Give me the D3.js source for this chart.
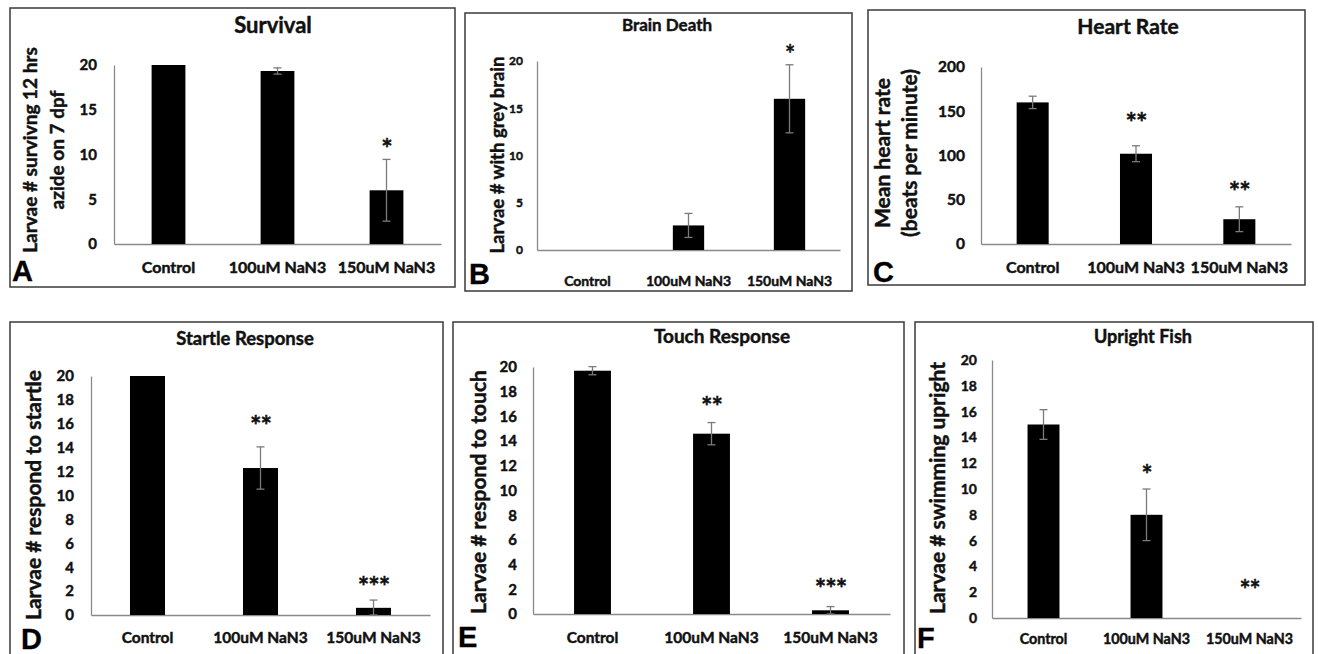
<!DOCTYPE html>
<html><head><meta charset="utf-8">
<script src="https://cdn.jsdelivr.net/npm/d3@7"></script>
<style>
html,body{margin:0;padding:0;background:#fff;}
svg text{font-family:Lato,"Open Sans",sans-serif;font-weight:bold;fill:#111;stroke:#111;stroke-width:0.45px;}
svg text.letter{font-family:"Liberation Sans",Arial,sans-serif;fill:#000;stroke:#000;stroke-width:0.3px;}
</style></head>
<body>
<svg id="c" width="1318" height="654"></svg>
<script>
// ---------- data ----------
const categories = ["Control", "100uM NaN3", "150uM NaN3"];

const survivalMean = [20, 19.33, 6];
const survivalErr = [0, 0.35, 3.45];
const survivalStars = ["", "", "*"];
const survivalStarAt = [0, 0, 11.3];
const survivalTicks = [0, 5, 10, 15, 20];

const brainMean = [0, 2.6, 16];
const brainErr = [0, 1.27, 3.6];
const brainStars = ["", "", "*"];
const brainStarAt = [0, 0, 21.2];
const brainTicks = [0, 5, 10, 15, 20];

const heartMean = [160, 102, 28];
const heartErr = [7, 9, 14];
const heartStars = ["", "**", "**"];
const heartStarAt = [0, 143.5, 65.5];
const heartTicks = [0, 50, 100, 150, 200];

const startleMean = [20, 12.3, 0.6];
const startleErr = [0, 1.77, 0.65];
const startleStars = ["", "**", "***"];
const startleStarAt = [0, 16.3, 2.8];
const startleTicks = [0, 2, 4, 6, 8, 10, 12, 14, 16, 18, 20];

const touchMean = [19.7, 14.6, 0.3];
const touchErr = [0.33, 0.9, 0.3];
const touchStars = ["", "**", "***"];
const touchStarAt = [0, 17.2, 2.5];
const touchTicks = [0, 2, 4, 6, 8, 10, 12, 14, 16, 18, 20];

const uprightMean = [15, 8, 0];
const uprightErr = [1.15, 2, 0];
const uprightStars = ["", "*", "**"];
const uprightStarAt = [0, 11.5, 2.6];
const uprightTicks = [0, 2, 4, 6, 8, 10, 12, 14, 16, 18, 20];

// ---------- layout ----------
const panels = [
  {letter:"A", title:"Survival", ylab:["Larvae # survivng 12 hrs","azide on 7 dpf"],
   mean:survivalMean, err:survivalErr, stars:survivalStars, starAt:survivalStarAt, ticks:survivalTicks, max:20,
   box:[10,8,455,287], x0:114, x1:441, yTop:65, yBot:244,
   tickFs:15, tickGap:17, titleFs:22, titleX:273, titleY:33, catFs:16, catY:273,
   ylabFs:19, ylabX:[30,57], ylabY:150, letterX:12, letterY:281, starFs:27},
  {letter:"B", title:"Brain Death", ylab:["Larvae # with grey brain"],
   mean:brainMean, err:brainErr, stars:brainStars, starAt:brainStarAt, ticks:brainTicks, max:20,
   box:[465,13,852,291], x0:537, x1:840, yTop:61, yBot:250,
   tickFs:12, tickGap:14, titleFs:17, titleX:667, titleY:31, catFs:14, catY:286,
   ylabFs:18.5, ylabX:[498], ylabY:155, letterX:469, letterY:284, starFs:24},
  {letter:"C", title:"Heart Rate", ylab:["Mean heart rate","(beats per minute)"],
   mean:heartMean, err:heartErr, stars:heartStars, starAt:heartStarAt, ticks:heartTicks, max:200,
   box:[868,10,1305,285], x0:981, x1:1291, yTop:67, yBot:244,
   tickFs:15.5, tickGap:16, titleFs:21, titleX:1128, titleY:34, catFs:16, catY:273,
   ylabFs:21, ylabX:[883,910], ylabY:153, letterX:873, letterY:282, starFs:27},
  {letter:"D", title:"Startle Response", ylab:["Larvae # respond to startle"],
   mean:startleMean, err:startleErr, stars:startleStars, starAt:startleStarAt, ticks:startleTicks, max:20,
   box:[10,322,443,680], x0:91, x1:430, yTop:376, yBot:615,
   tickFs:15, tickGap:17, titleFs:18.5, titleX:245, titleY:345, catFs:15.5, catY:643,
   ylabFs:21, ylabX:[34], ylabY:495, letterX:21, letterY:649, starFs:27},
  {letter:"E", title:"Touch Response", ylab:["Larvae # respond to touch"],
   mean:touchMean, err:touchErr, stars:touchStars, starAt:touchStarAt, ticks:touchTicks, max:20,
   box:[453,322,904,680], x0:533, x1:890, yTop:367, yBot:614,
   tickFs:15, tickGap:16, titleFs:19, titleX:722, titleY:343, catFs:15.5, catY:643,
   ylabFs:21, ylabX:[479], ylabY:492, letterX:458, letterY:647, starFs:27},
  {letter:"F", title:"Upright Fish", ylab:["Larvae # swimming upright"],
   mean:uprightMean, err:uprightErr, stars:uprightStars, starAt:uprightStarAt, ticks:uprightTicks, max:20,
   box:[915,322,1313,680], x0:992, x1:1301, yTop:360, yBot:618,
   tickFs:14, tickGap:15, titleFs:18, titleX:1143, titleY:343, catFs:14.3, catY:644,
   ylabFs:21, ylabX:[938], ylabY:488, letterX:917, letterY:648, starFs:26}
];

const svg = d3.select("#c");
const axisColor = "#8a8a8a";
const errColor = "#7a7a7a";

panels.forEach(p => {
  const g = svg.append("g");
  const [bx0, by0, bx1, by1] = p.box;
  g.append("rect").attr("x", bx0).attr("y", by0).attr("width", bx1 - bx0).attr("height", by1 - by0)
    .attr("fill", "none").attr("stroke", "#3a3a3a").attr("stroke-width", 1.5);

  const x = d3.scaleBand().domain(categories).range([p.x0, p.x1]).paddingInner(0.69).paddingOuter(0.345);
  const y = d3.scaleLinear().domain([0, p.max]).range([p.yBot, p.yTop]);

  // y axis
  const ya = g.append("g").attr("transform", `translate(${p.x0},0)`)
    .call(d3.axisLeft(y).tickValues(p.ticks).tickSize(0).tickPadding(p.tickGap));
  ya.select(".domain").attr("stroke", axisColor).attr("stroke-width", 1.3);
  ya.selectAll("text").style("font-size", p.tickFs + "px").attr("fill", "#111")
    .style("font-family", "Lato").style("font-weight", "bold");

  // x axis
  const xa = g.append("g").attr("transform", `translate(0,${p.yBot})`)
    .call(d3.axisBottom(x).tickSize(0).tickPadding(0));
  xa.select(".domain").attr("stroke", axisColor).attr("stroke-width", 1.3);
  xa.selectAll("text").style("font-size", p.catFs + "px").attr("fill", "#111")
    .attr("dy", null).attr("y", p.catY - p.yBot)
    .style("font-family", "Lato").style("font-weight", "bold");

  // bars
  g.selectAll("rect.bar").data(categories).enter().append("rect").attr("class", "bar")
    .attr("x", d => x(d)).attr("width", x.bandwidth())
    .attr("y", (d, i) => y(p.mean[i])).attr("height", (d, i) => y(0) - y(p.mean[i]))
    .attr("fill", "#000");

  // error bars
  const cap = 4;
  categories.forEach((c, i) => {
    if (p.err[i] <= 0 || p.mean[i] <= 0) return;
    const cx = x(c) + x.bandwidth() / 2;
    const hi = y(p.mean[i] + p.err[i]);
    const lo = y(Math.max(0, p.mean[i] - p.err[i]));
    g.append("line").attr("x1", cx).attr("x2", cx).attr("y1", hi).attr("y2", lo)
      .attr("stroke", errColor).attr("stroke-width", 1.3);
    g.append("line").attr("x1", cx - cap).attr("x2", cx + cap).attr("y1", hi).attr("y2", hi)
      .attr("stroke", errColor).attr("stroke-width", 1.3);
    g.append("line").attr("x1", cx - cap).attr("x2", cx + cap).attr("y1", lo).attr("y2", lo)
      .attr("stroke", errColor).attr("stroke-width", 1.3);
  });

  // significance stars
  categories.forEach((c, i) => {
    if (!p.stars[i]) return;
    const cx = x(c) + x.bandwidth() / 2;
    g.append("text").attr("x", cx).attr("y", y(p.starAt[i]) + p.starFs * 0.55)
      .attr("text-anchor", "middle").style("font-size", p.starFs + "px")
      .style("letter-spacing", "-1px").text(p.stars[i]);
  });

  // title
  g.append("text").attr("x", p.titleX).attr("y", p.titleY).attr("text-anchor", "middle")
    .style("font-size", p.titleFs + "px").text(p.title);

  // y label
  p.ylab.forEach((t, k) => {
    g.append("text").attr("transform", `translate(${p.ylabX[k]},${p.ylabY}) rotate(-90)`)
      .attr("text-anchor", "middle").attr("dy", "0.35em")
      .style("font-size", p.ylabFs + "px").text(t);
  });

  // panel letter
  g.append("text").attr("class", "letter").attr("x", p.letterX).attr("y", p.letterY)
    .style("font-size", "29px").text(p.letter);
});
</script>
</body></html>
